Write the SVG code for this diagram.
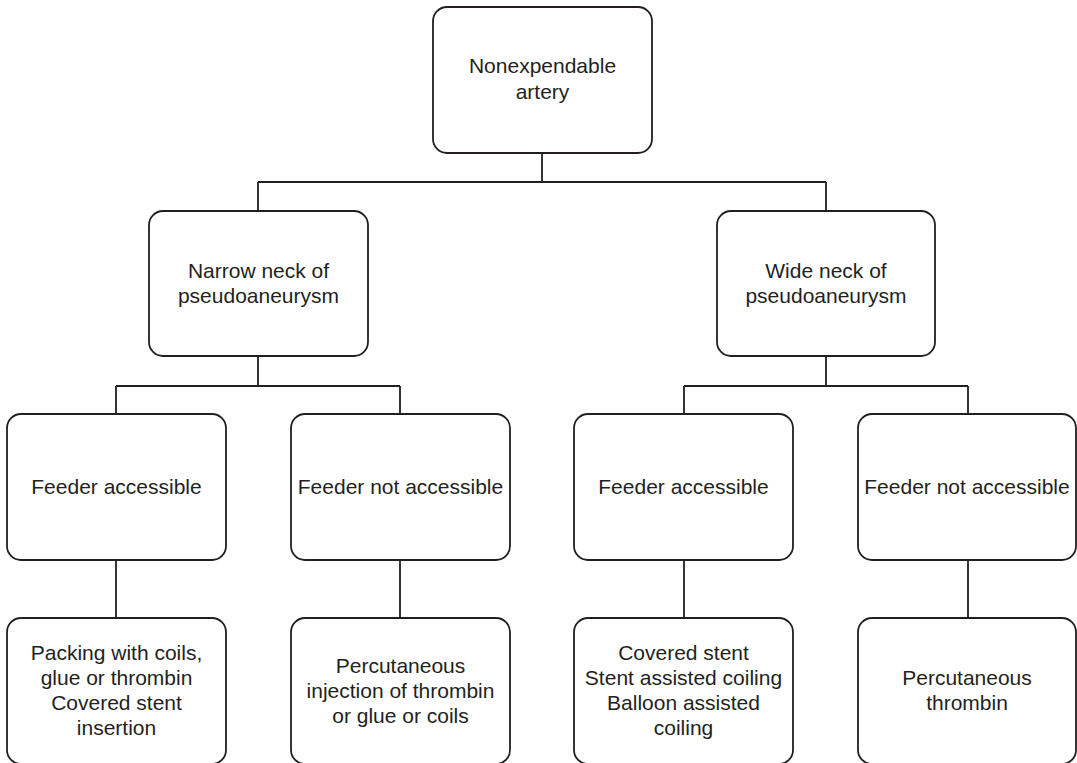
<svg xmlns="http://www.w3.org/2000/svg" width="1077" height="763" viewBox="0 0 1077 763">
  <style>
    .box { fill: #ffffff; stroke: #231f20; stroke-width: 1.8; }
    .lbl { font-family: "Liberation Sans", Arial, sans-serif; font-size: 21px; fill: #231f20; text-anchor: middle; }
    .conn { fill: none; stroke: #231f20; stroke-width: 1.8; }
  </style>
  <rect width="1077" height="763" fill="#ffffff"/>
  <g id="connectors">
    <path class="conn" d="M542,153 V182 M258,182 H826 M258,182 V211 M826,182 V211"/>
    <path class="conn" d="M258,356 V386 M116,386 H400 M116,386 V414 M400,386 V414"/>
    <path class="conn" d="M826,356 V386 M684,386 H968 M684,386 V414 M968,386 V414"/>
    <path class="conn" d="M116,560 V618 M400,560 V618 M684,560 V618 M968,560 V618"/>
  </g>
  <g id="node-root">
    <rect class="box" x="433" y="7" width="219" height="146" rx="14"/>
    <text class="lbl" x="542.5" y="73">Nonexpendable</text>
    <text class="lbl" x="542.5" y="99">artery</text>
  </g>
  <g id="node-narrow">
    <rect class="box" x="149" y="211" width="219" height="145" rx="14"/>
    <text class="lbl" x="258.5" y="278">Narrow neck of</text>
    <text class="lbl" x="258.5" y="303">pseudoaneurysm</text>
  </g>
  <g id="node-wide">
    <rect class="box" x="717" y="211" width="218" height="145" rx="14"/>
    <text class="lbl" x="826" y="278">Wide neck of</text>
    <text class="lbl" x="826" y="303">pseudoaneurysm</text>
  </g>
  <g id="node-narrow-feeder">
    <rect class="box" x="7" y="414" width="219" height="146" rx="14"/>
    <text class="lbl" x="116.5" y="494">Feeder accessible</text>
  </g>
  <g id="node-narrow-nofeeder">
    <rect class="box" x="291" y="414" width="219" height="146" rx="14"/>
    <text class="lbl" x="400.5" y="494">Feeder not accessible</text>
  </g>
  <g id="node-wide-feeder">
    <rect class="box" x="574" y="414" width="219" height="146" rx="14"/>
    <text class="lbl" x="683.5" y="494">Feeder accessible</text>
  </g>
  <g id="node-wide-nofeeder">
    <rect class="box" x="858" y="414" width="218" height="146" rx="14"/>
    <text class="lbl" x="967" y="494">Feeder not accessible</text>
  </g>
  <g id="node-narrow-feeder-tx">
    <rect class="box" x="7" y="618" width="219" height="146" rx="14"/>
    <text class="lbl" x="116.5" y="660">Packing with coils,</text>
    <text class="lbl" x="116.5" y="685">glue or thrombin</text>
    <text class="lbl" x="116.5" y="710">Covered stent</text>
    <text class="lbl" x="116.5" y="735">insertion</text>
  </g>
  <g id="node-narrow-nofeeder-tx">
    <rect class="box" x="291" y="618" width="219" height="146" rx="14"/>
    <text class="lbl" x="400.5" y="673">Percutaneous</text>
    <text class="lbl" x="400.5" y="698">injection of thrombin</text>
    <text class="lbl" x="400.5" y="723">or glue or coils</text>
  </g>
  <g id="node-wide-feeder-tx">
    <rect class="box" x="574" y="618" width="219" height="146" rx="14"/>
    <text class="lbl" x="683.5" y="660">Covered stent</text>
    <text class="lbl" x="683.5" y="685">Stent assisted coiling</text>
    <text class="lbl" x="683.5" y="710">Balloon assisted</text>
    <text class="lbl" x="683.5" y="735">coiling</text>
  </g>
  <g id="node-wide-nofeeder-tx">
    <rect class="box" x="858" y="618" width="218" height="146" rx="14"/>
    <text class="lbl" x="967" y="685">Percutaneous</text>
    <text class="lbl" x="967" y="710">thrombin</text>
  </g>
</svg>
